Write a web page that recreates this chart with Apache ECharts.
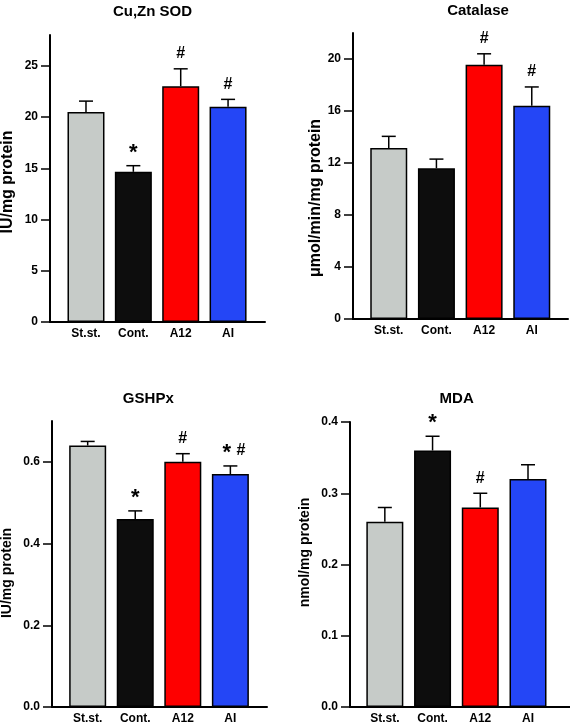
<!DOCTYPE html>
<html><head><meta charset="utf-8">
<script src="https://cdn.jsdelivr.net/npm/echarts@6/dist/echarts.min.js"></script>
<style>html,body{margin:0;padding:0;background:#fff}#c{width:570px;height:727px}</style>
</head><body><div id="c"></div>
<script>
const categories = ['St.st.', 'Cont.', 'A12', 'AI'];
const barColors = ['#c6cbc8', '#0d0d0d', '#fe0000', '#2446f6'];

const sodTitle = 'Cu,Zn SOD';
const sodUnit = 'IU/mg protein';
const sodMean = [20.5, 14.65, 23.0, 21.0];
const sodSem = [1.05, 0.6, 1.7, 0.72];
const sodMarks = ['', '*', '#', '#'];
const sodTicks = [0, 5, 10, 15, 20, 25];
const sodMax = 28;

const catTitle = 'Catalase';
const catUnit = 'μmol/min/mg protein';
const catMean = [13.15, 11.6, 19.55, 16.4];
const catSem = [0.9, 0.7, 0.85, 1.45];
const catMarks = ['', '', '#', '#'];
const catTicks = [0, 4, 8, 12, 16, 20];
const catMax = 22;

const gpxTitle = 'GSHPx';
const gpxUnit = 'IU/mg protein';
const gpxMean = [0.64, 0.46, 0.60, 0.57];
const gpxSem = [0.01, 0.02, 0.02, 0.02];
const gpxMarks = ['', '*', '#', '*#'];
const gpxTicks = [0, 0.2, 0.4, 0.6];
const gpxMax = 0.7;

const mdaTitle = 'MDA';
const mdaUnit = 'nmol/mg protein';
const mdaMean = [0.26, 0.36, 0.28, 0.32];
const mdaSem = [0.02, 0.02, 0.02, 0.02];
const mdaMarks = ['', '*', '#', ''];
const mdaTicks = [0, 0.1, 0.2, 0.3, 0.4];
const mdaMax = 0.4;

const FONT = '"Liberation Sans", Arial, Helvetica, sans-serif';

const panels = [
  {title: sodTitle, unit: sodUnit, mean: sodMean, sem: sodSem, marks: sodMarks, ticks: sodTicks, max: sodMax, dec: 0,
   grid: {left: 50, top: 35, width: 215, height: 287}, xr: [-0.76, 3.78],
   tx: 152.5, ty: 4, nameSize: 16, nameGap: 34, namePad: [0, 7, 0, 0]},
  {title: catTitle, unit: catUnit, mean: catMean, sem: catSem, marks: catMarks, ticks: catTicks, max: catMax, dec: 0,
   grid: {left: 353, top: 33, width: 215, height: 286}, xr: [-0.75, 3.76],
   tx: 478, ty: 3, nameSize: 16, nameGap: 25, namePad: [0, 44, 0, 0]},
  {title: gpxTitle, unit: gpxUnit, mean: gpxMean, sem: gpxSem, marks: gpxMarks, ticks: gpxTicks, max: gpxMax, dec: 1,
   grid: {left: 52, top: 421, width: 215, height: 286}, xr: [-0.75, 3.77],
   tx: 148.3, ty: 391, nameSize: 14, nameGap: 38, namePad: [0, 18, 0, 0]},
  {title: mdaTitle, unit: mdaUnit, mean: mdaMean, sem: mdaSem, marks: mdaMarks, ticks: mdaTicks, max: mdaMax, dec: 1,
   grid: {left: 350, top: 422, width: 220, height: 285}, xr: [-0.73, 3.88],
   tx: 456.7, ty: 391, nameSize: 14, nameGap: 38, namePad: [0, 0, 0, 24]}
];

const option = {
  backgroundColor: '#fff',
  animation: false,
  title: [], grid: [], xAxis: [], yAxis: [], series: []
};

panels.forEach((p, k) => {
  option.title.push({
    text: p.title, left: p.tx, top: p.ty, textAlign: 'center', padding: 0,
    textStyle: {fontFamily: FONT, fontSize: 15, fontWeight: 'bold', color: '#000'}
  });
  option.grid.push(Object.assign({outerBoundsMode: 'none', containLabel: false}, p.grid));
  option.xAxis.push({
    type: 'value', gridIndex: k, min: p.xr[0], max: p.xr[1],
    axisLine: {show: true, onZero: true, lineStyle: {color: '#000', width: 2}},
    axisTick: {show: false},
    splitLine: {show: false},
    axisLabel: {
      customValues: [0, 1, 2, 3], margin: 6,
      formatter: v => categories[Math.round(v)] || '',
      fontFamily: FONT, fontSize: 12, fontWeight: 'bold', color: '#000'
    }
  });
  option.yAxis.push({
    type: 'value', gridIndex: k, min: 0, max: p.max,
    name: p.unit, nameLocation: 'middle', nameGap: p.nameGap, nameRotate: 90,
    nameTextStyle: {fontFamily: FONT, fontSize: p.nameSize, fontWeight: 'bold', color: '#000', padding: p.namePad},
    axisLine: {show: true, onZero: false, lineStyle: {color: '#000', width: 2}},
    axisTick: {show: true, customValues: p.ticks, length: 9, lineStyle: {color: '#000', width: 1.5}},
    splitLine: {show: false},
    axisLabel: {
      customValues: p.ticks, margin: 12,
      formatter: v => v.toFixed(p.dec),
      fontFamily: FONT, fontSize: 12, fontWeight: 'bold', color: '#000'
    }
  });
  option.series.push({
    type: 'bar', xAxisIndex: k, yAxisIndex: k, barWidth: 37, z: 2,
    data: p.mean.map((v, i) => ({value: [i, v], itemStyle: {color: barColors[i]}})),
    itemStyle: {borderColor: '#000', borderWidth: 1.5}
  });
  option.series.push({
    type: 'custom', xAxisIndex: k, yAxisIndex: k, z: 3,
    data: p.mean.map((v, i) => [i, v, p.sem[i]]),
    renderItem: (params, api) => {
      const x = api.value(0), v = api.value(1), e = api.value(2);
      const a = api.coord([x, v]);
      const b = api.coord([x, v + e]);
      const children = [
        {type: 'line', shape: {x1: a[0], y1: a[1], x2: b[0], y2: b[1]}, style: {stroke: '#000', lineWidth: 1.5}},
        {type: 'line', shape: {x1: b[0] - 7, y1: b[1], x2: b[0] + 7, y2: b[1]}, style: {stroke: '#000', lineWidth: 1.5}}
      ];
      const m = p.marks[params.dataIndex];
      const two = m.length > 1;
      if (m.indexOf('*') >= 0) {
        children.push({type: 'text', style: {text: '*', x: b[0] + (two ? -3.5 : 0), y: b[1] - 13, align: 'center', verticalAlign: 'middle',
          font: 'bold 22px ' + FONT, fill: '#000'}});
      }
      if (m.indexOf('#') >= 0) {
        children.push({type: 'text', style: {text: '#', x: b[0] + (two ? 10.5 : 0), y: b[1] - 15, align: 'center', verticalAlign: 'middle',
          font: 'bold 16px ' + FONT, fill: '#000'}});
      }
      return {type: 'group', children};
    }
  });
});

const chart = echarts.init(document.getElementById('c'), null, {renderer: 'canvas', width: 570, height: 727});
chart.setOption(option);
</script>
</body></html>
